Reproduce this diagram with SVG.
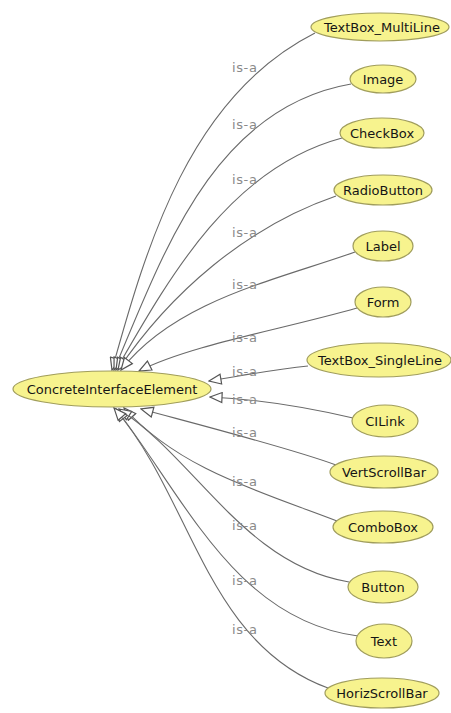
<svg xmlns="http://www.w3.org/2000/svg" width="451" height="713" viewBox="0 0 451 713">
  <style>
    .node ellipse { fill: #f7f38e; stroke: #a09d5c; stroke-width: 1.2; }
    .node text { font-family: "DejaVu Sans", "Liberation Sans", sans-serif; font-size: 13px; fill: #151515; text-anchor: middle; }
    .edge { fill: none; stroke: #6a6a6a; stroke-width: 1.1; marker-end: url(#isa); }
    .lbl { font-family: "DejaVu Sans", "Liberation Sans", sans-serif; font-size: 13px; fill: #8a8a8a; letter-spacing: 0.6px; }
  </style>
  <defs>
    <!-- hollow triangle for the is-a relation -->
    <marker id="isa" viewBox="-1 -1 14 12" refX="12" refY="5" markerWidth="14" markerHeight="12" orient="auto" markerUnits="userSpaceOnUse">
      <path d="M0,0 L12,5 L0,10 Z" fill="#ffffff" stroke="#555555" stroke-width="1.2"/>
    </marker>
  </defs>
  <rect width="451" height="713" fill="#ffffff"/>

  <g id="connectors">
    <path class="edge" d="M315,33 C190,96 147,244 112,370"/>
    <path class="edge" d="M351,84 C212,108 162,257 114,370"/>
    <path class="edge" d="M342,138 C230,168 169,278 116,370"/>
    <path class="edge" d="M336,196 C246,227 170,293 118,370"/>
    <path class="edge" d="M355,252 C273,281 175,301 121,370"/>
    <path class="edge" d="M357,308 C280,330 190,345 139,371"/>
    <path class="edge" d="M308,366 C270,370 240,376 209,381"/>
    <path class="edge" d="M353,418 C310,408 255,399 210,397"/>
    <path class="edge" d="M336,465 C290,448 200,425 141,409"/>
    <path class="edge" d="M337,521 C262,492 180,470 124,408"/>
    <path class="edge" d="M349,582 C245,565 196,459 119,409"/>
    <path class="edge" d="M358,636 C235,620 184,496 116,409"/>
    <path class="edge" d="M328,688 C205,643 192,497 114,408"/>
    <g id="edge-labels">
      <text class="lbl" x="232" y="72">is-a</text>
      <text class="lbl" x="232" y="129">is-a</text>
      <text class="lbl" x="232" y="184">is-a</text>
      <text class="lbl" x="232" y="237">is-a</text>
      <text class="lbl" x="232" y="289">is-a</text>
      <text class="lbl" x="232" y="342">is-a</text>
      <text class="lbl" x="232" y="376">is-a</text>
      <text class="lbl" x="232" y="404">is-a</text>
      <text class="lbl" x="232" y="437">is-a</text>
      <text class="lbl" x="232" y="486">is-a</text>
      <text class="lbl" x="232" y="530">is-a</text>
      <text class="lbl" x="232" y="585">is-a</text>
      <text class="lbl" x="232" y="634">is-a</text>
    </g>
  </g>

  <g id="ConcreteInterfaceElement" class="node">
    <ellipse cx="112" cy="389" rx="99" ry="18"/>
    <text x="112" y="394">ConcreteInterfaceElement</text>
  </g>
  <g id="TextBox_MultiLine" class="node">
    <ellipse cx="380" cy="27" rx="69" ry="14"/>
    <text x="382" y="32">TextBox_MultiLine</text>
  </g>
  <g id="Image" class="node">
    <ellipse cx="383" cy="79" rx="33" ry="14"/>
    <text x="383" y="84">Image</text>
  </g>
  <g id="CheckBox" class="node">
    <ellipse cx="382" cy="133" rx="42" ry="15"/>
    <text x="382" y="138">CheckBox</text>
  </g>
  <g id="RadioButton" class="node">
    <ellipse cx="383" cy="190" rx="49" ry="15"/>
    <text x="383" y="195">RadioButton</text>
  </g>
  <g id="Label" class="node">
    <ellipse cx="383" cy="246" rx="30" ry="15"/>
    <text x="383" y="251">Label</text>
  </g>
  <g id="Form" class="node">
    <ellipse cx="383" cy="302" rx="28" ry="15"/>
    <text x="383" y="307">Form</text>
  </g>
  <g id="TextBox_SingleLine" class="node">
    <ellipse cx="379" cy="360" rx="72" ry="17"/>
    <text x="380" y="365">TextBox_SingleLine</text>
  </g>
  <g id="CILink" class="node">
    <ellipse cx="385" cy="421" rx="33" ry="16"/>
    <text x="385" y="426">CILink</text>
  </g>
  <g id="VertScrollBar" class="node">
    <ellipse cx="384" cy="472" rx="54" ry="16"/>
    <text x="384" y="477">VertScrollBar</text>
  </g>
  <g id="ComboBox" class="node">
    <ellipse cx="383" cy="527" rx="50" ry="16"/>
    <text x="383" y="532">ComboBox</text>
  </g>
  <g id="Button" class="node">
    <ellipse cx="383" cy="587" rx="35" ry="16"/>
    <text x="383" y="592">Button</text>
  </g>
  <g id="Text" class="node">
    <ellipse cx="384" cy="641" rx="28" ry="17"/>
    <text x="384" y="646">Text</text>
  </g>
  <g id="HorizScrollBar" class="node">
    <ellipse cx="382" cy="693" rx="57" ry="15"/>
    <text x="382" y="698">HorizScrollBar</text>
  </g>
</svg>
